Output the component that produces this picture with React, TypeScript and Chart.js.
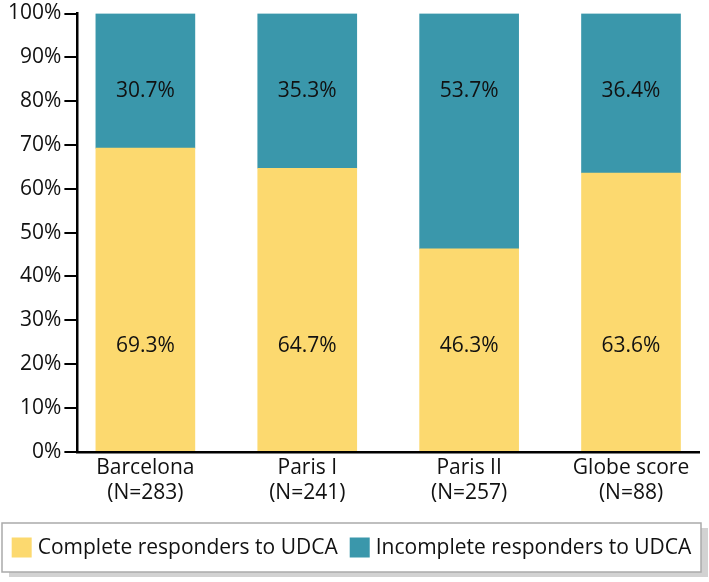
import React, { useEffect, useRef } from "react";
import { Chart, registerables } from "chart.js";

Chart.register(...registerables);

const categories = ["Barcelona", "Paris I", "Paris II", "Globe score"];
const sampleSizes = ["(N=283)", "(N=241)", "(N=257)", "(N=88)"];
const complete = [69.3, 64.7, 46.3, 63.6];
const incomplete = [30.7, 35.3, 53.7, 36.4];
const yTicks = [0, 10, 20, 30, 40, 50, 60, 70, 80, 90, 100];
const seriesNames = ["Complete responders to UDCA", "Incomplete responders to UDCA"];

const YELLOW = "#FCD96F";
const TEAL = "#3A97AB";
const FONT = "'Open Sans', 'Noto Sans', sans-serif";
const FS = 21;

const labelPlugin = {
  id: "segLabels",
  afterDatasetsDraw(chart: any) {
    const { ctx, scales } = chart;
    const x = scales.x;
    const y = scales.y;
    ctx.save();
    ctx.font = `${FS}px ${FONT}`;
    ctx.fillStyle = "#111";
    ctx.textAlign = "center";
    ctx.textBaseline = "middle";
    const yLow = y.getPixelForValue(24.2);
    const yHigh = y.getPixelForValue(82.4);
    categories.forEach((_, i) => {
      const px = x.getPixelForValue(i);
      ctx.fillText(complete[i].toFixed(1) + "%", px, yLow);
      ctx.fillText(incomplete[i].toFixed(1) + "%", px, yHigh);
    });
    ctx.restore();
  },
};

const legendPlugin = {
  id: "boxLegend",
  afterDraw(chart: any) {
    const { ctx } = chart;
    const left = 2, right = 701, top = 523, bottom = 572;
    ctx.save();
    ctx.fillStyle = "#d2d2d2";
    ctx.fillRect(left + 7, top + 5, right - left, bottom - top);
    ctx.fillStyle = "#fff";
    ctx.fillRect(left, top, right - left, bottom - top);
    ctx.strokeStyle = "#aaaaaa";
    ctx.lineWidth = 1.5;
    ctx.strokeRect(left, top, right - left, bottom - top);
    ctx.font = `${FS}px ${FONT}`;
    ctx.textBaseline = "middle";
    ctx.textAlign = "left";
    const cy = (top + bottom) / 2;
    const colors = [YELLOW, TEAL];
    const w0 = ctx.measureText(seriesNames[0]).width;
    const w1 = ctx.measureText(seriesNames[1]).width;
    const sw = 20, gap = 6, itemGap = 12;
    const total = sw + gap + w0 + itemGap + sw + gap + w1;
    let xx = (left + right) / 2 - total / 2;
    [w0, w1].forEach((w, i) => {
      ctx.fillStyle = colors[i];
      ctx.fillRect(xx, cy - 10, sw, 20);
      ctx.fillStyle = "#111";
      ctx.fillText(seriesNames[i], xx + sw + gap, cy + 1);
      xx += sw + gap + w + itemGap;
    });
    ctx.restore();
  },
};

export default function App() {
  const ref = useRef<HTMLCanvasElement>(null);
  useEffect(() => {
    document.body.style.margin = "0";
    const chart = new Chart(ref.current!, {
      type: "bar",
      data: {
        datasets: [
          {
            label: seriesNames[0],
            data: complete.map((v, i) => ({ x: i, y: v })),
            backgroundColor: YELLOW,
            barThickness: 99,
          },
          {
            label: seriesNames[1],
            data: incomplete.map((v, i) => ({ x: i, y: v })),
            backgroundColor: TEAL,
            barThickness: 99,
          },
        ],
      },
      options: {
        animation: false,
        responsive: false,
        layout: { padding: { top: 13, right: 10, left: 5, bottom: 73 } },
        plugins: {
          tooltip: { enabled: false },
          legend: { display: false },
        },
        scales: {
          x: {
            type: "linear",
            stacked: true,
            offset: false,
            min: -0.42,
            max: 3.42,
            afterBuildTicks(scale: any) {
              scale.ticks = categories.map((_, i) => ({ value: i }));
            },
            grid: { display: false, drawTicks: false },
            border: { display: true, color: "#000", width: 2.5 },
            ticks: {
              autoSkip: false,
              maxRotation: 0,
              padding: 3,
              color: "#111",
              font: { family: FONT, size: FS, lineHeight: 1.22 },
              callback: (v: any) => {
                const i = Math.round(Number(v));
                return [categories[i], sampleSizes[i]];
              },
            },
          },
          y: {
            stacked: true,
            min: 0,
            max: 100,
            afterBuildTicks(scale: any) {
              scale.ticks = yTicks.map((v) => ({ value: v }));
            },
            grid: {
              drawOnChartArea: false,
              drawTicks: true,
              tickLength: 13,
              color: "#000",
              lineWidth: 2,
            },
            border: { display: true, color: "#000", width: 2.5 },
            ticks: {
              padding: 3,
              color: "#111",
              font: { family: FONT, size: FS, lineHeight: 1.0 },
              callback: (v: any) => v + "%",
            },
          },
        },
      },
      plugins: [labelPlugin, legendPlugin],
    });
    return () => chart.destroy();
  }, []);
  return (
    <div style={{ position: "absolute", left: 0, top: 0, width: 709, height: 582 }}>
      <canvas ref={ref} width={709} height={582} />
    </div>
  );
}
